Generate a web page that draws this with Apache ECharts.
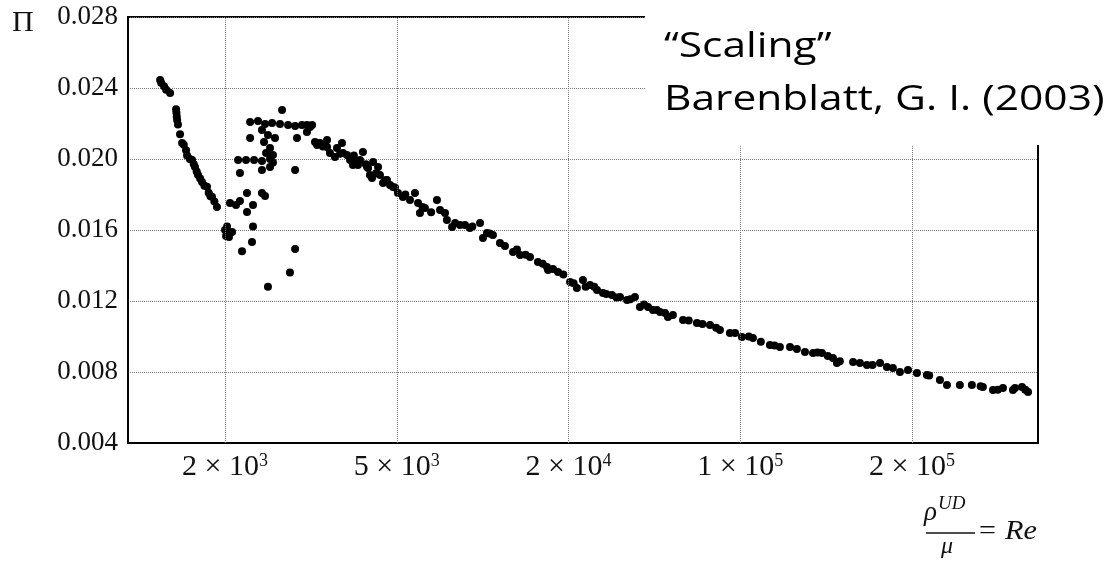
<!DOCTYPE html>
<html>
<head>
<meta charset="utf-8">
<script src="https://cdn.jsdelivr.net/npm/echarts@6/dist/echarts.min.js"></script>
<style>
html,body{margin:0;padding:0;background:#fff;}
#chart{width:1109px;height:562px;}
</style>
</head>
<body>
<div id="chart"></div>
<script>
// x positions on the (non-uniform) Reynolds-number axis: tick k sits at position k
const xTickPos = [1, 2, 3, 4, 5];
const xTickBase = ['2 × 10', '5 × 10', '2 × 10', '1 × 10', '2 × 10'];
const xTickExp = ['3', '3', '4', '5', '5'];

// friction factor Π versus Re (position on axis)
const reX = [
  0.622,0.628,0.645,0.657,0.680,0.715,0.717,0.719,0.721,0.726,0.738,0.750,0.760,0.773,0.779,0.795,0.808,0.818,0.825,0.835,0.843,0.855,0.866,0.880,0.895,0.905,0.915,0.924,0.938,0.953,
  1.000,1.006,1.017,1.023,1.041,1.012,1.099,1.157,1.163,1.250,1.378,1.408,
  1.029,1.064,1.087,1.128,1.163,1.128,1.215,1.233,1.087,1.146,
  1.076,1.122,1.169,1.215,1.262,1.215,1.262,1.279,1.408,
  1.146,1.192,1.233,1.274,1.320,1.367,1.408,1.448,1.495,1.332,
  1.215,1.250,1.227,1.262,1.239,1.291,1.279,1.419,1.477,1.507,
  1.536,1.594,1.611,1.652,1.681,1.710,1.745,1.803,1.774,1.827,1.862,1.844,1.902,1.943,1.978,2.007,
  1.477,1.524,1.553,1.594,1.640,1.687,1.728,1.745,1.786,1.833,1.856,1.891,1.920,1.961,2.036,2.077,2.106,2.124,2.135,2.164,2.234,2.252,2.281,2.292,2.322,2.368,2.397,2.426,2.485,2.525,
  2.502,2.560,2.601,2.677,2.718,2.776,2.822,2.875,2.881,2.939,3.009,3.049,3.084,3.125,3.166,3.201,3.253,3.300,3.341,3.387,3.416,3.463,3.515,3.562,3.608,
  3.492,3.533,3.579,3.667,3.748,3.824,3.882,3.940,4.010,4.074,4.173,4.231,4.290,4.377,4.424,4.476,4.540,4.563,
  4.657,4.697,4.738,4.814,4.854,4.889,4.930,4.977,5.029,5.087,5.163,5.204,5.279,5.349,5.413,5.472,5.530,5.588,5.641,5.676,
  2.540,2.630,2.700,2.750,2.850,2.910,2.970,3.030,3.100,3.150,3.220,3.280,3.360,3.440,3.700,3.780,3.860,3.970,4.050,4.120,4.200,4.330,4.450,4.510,4.580,4.770,5.100,5.400,5.500,5.600,5.660,
  2.050,2.150,2.200,2.340,2.440,1.570,1.670,1.750,1.820,1.880,1.930,1.990
];
const piY = [
  0.02445,0.0243,0.0241,0.0239,0.02372,0.0228,0.0226,0.0224,0.0222,0.02195,0.0214,0.0209,0.0208,0.0205,0.0202,0.0200,0.01995,0.0197,0.01955,0.0193,0.0191,0.0189,0.0187,0.0185,0.01843,0.0181,0.0179,0.01787,0.0176,0.0173,
  0.0160,0.01566,0.01578,0.01561,0.01589,0.0162,0.0148,0.01533,0.0162,0.0128,0.0136,0.01493,
  0.01752,0.01741,0.01763,0.01701,0.01741,0.01808,0.01808,0.01792,0.01921,0.02118,
  0.01994,0.01994,0.01994,0.01989,0.0200,0.01938,0.01955,0.0198,0.01938,
  0.02208,0.02214,0.02197,0.02203,0.02197,0.02192,0.02186,0.02192,0.0218,0.02276,
  0.02163,0.02135,0.02096,0.02062,0.02034,0.02118,0.02023,0.02118,0.02152,0.02192,
  0.02079,0.02107,0.02034,0.02062,0.0209,0.02023,0.01994,0.0204,0.01966,0.01955,0.01983,0.0191,0.0191,0.01882,0.01842,0.01808,
  0.02192,0.02096,0.0209,0.02068,0.02011,0.02034,0.01994,0.01966,0.01994,0.01949,0.01893,0.01955,0.01865,0.01853,0.01786,0.01769,0.01808,0.01752,0.01696,0.01724,0.01769,0.01713,0.01696,0.01656,0.01617,0.01628,0.01628,0.01611,0.01639,0.01583,
  0.01555,0.01572,0.01527,0.01476,0.01459,0.01448,0.0142,0.01392,0.01375,0.01363,0.01307,0.01273,0.01318,0.0129,0.01262,0.01245,0.01234,0.01223,0.01206,0.01223,0.01166,0.01166,0.01149,0.01132,0.01121,
  0.01149,0.01138,0.0111,0.01093,0.01076,0.01065,0.01037,0.0102,0.00997,0.00992,0.00952,0.00941,0.00941,0.00913,0.00907,0.00907,0.00879,0.00851,
  0.00856,0.00851,0.00839,0.00851,0.00828,0.00822,0.0080,0.00811,0.00794,0.00783,0.00755,0.00727,0.00727,0.00727,0.00715,0.00699,0.0071,0.00699,0.00715,0.00687,
  0.0158,0.0151,0.0149,0.0146,0.0141,0.0138,0.0135,0.0130,0.0128,0.0128,0.0124,0.0122,0.0121,0.0118,0.0109,0.0107,0.0105,0.0102,0.0100,0.0097,0.0095,0.0093,0.0091,0.0089,0.0086,0.0084,0.0078,0.0072,0.0070,0.0071,0.0070,
  0.0180,0.0173,0.0170,0.0164,0.0162,0.0207,0.0203,0.0202,0.0197,0.0192,0.0188,0.0184
];

const points = reX.map((x, i) => [x, piY[i]]);

const chart = echarts.init(document.getElementById('chart'), null, {renderer: 'canvas'});
const serif = '"Liberation Serif", "DejaVu Serif", serif';

chart.setOption({
  backgroundColor: '#fff',
  animation: false,
  grid: {left: 128, right: 71, top: 17, bottom: 119, show: true, borderColor: '#000', borderWidth: 2, backgroundColor: 'transparent'},
  xAxis: {
    type: 'value', min: 0.435, max: 5.734,
    axisLine: {show: true, lineStyle: {color: '#000', width: 2}},
    axisTick: {show: false},
    splitLine: {show: false},
    axisLabel: {
      customValues: xTickPos,
      margin: 9,
      formatter: function (v) {
        const i = xTickPos.indexOf(Math.round(v));
        return '{b|' + xTickBase[i] + '}{s|' + xTickExp[i] + '}';
      },
      rich: {
        b: {fontFamily: serif, fontSize: 30, color: '#111', lineHeight: 30},
        s: {fontFamily: serif, fontSize: 18, color: '#111', verticalAlign: 'top', lineHeight: 18}
      }
    }
  },
  yAxis: {
    type: 'value', min: 0.004, max: 0.028, interval: 0.004,
    axisLine: {show: true, lineStyle: {color: '#000', width: 2}},
    axisTick: {show: false},
    splitLine: {show: true, lineStyle: {color: '#777', type: 'dotted', width: 1}},
    axisLabel: {
      margin: 10, fontFamily: serif, fontSize: 27, color: '#111',
      formatter: v => v.toFixed(3)
    }
  },
  series: [{
    type: 'scatter',
    data: points,
    symbol: 'circle',
    symbolSize: 8,
    itemStyle: {color: '#000', opacity: 1},
    markLine: {
      silent: true, symbol: 'none', animation: false,
      label: {show: false},
      lineStyle: {color: '#777', type: 'dotted', width: 1},
      data: xTickPos.map(v => ({xAxis: v}))
    }
  }],
  graphic: [
    {type: 'text', x: 12, y: 23, style: {text: 'Π', font: '30px ' + serif, fill: '#111', verticalAlign: 'middle'}},
    {type: 'rect', z: 100, shape: {x: 645, y: 0, width: 464, height: 145}, style: {fill: '#fff'}},
    {type: 'text', z: 101, x: 664, y: 47, scaleX: 1.25, style: {text: '“Scaling”', font: '34px "Open Sans"', fill: '#000', verticalAlign: 'middle'}},
    {type: 'text', z: 101, x: 664, y: 100, scaleX: 1.25, style: {text: 'Barenblatt, G. I. (2003)', font: '34px "Open Sans"', fill: '#000', verticalAlign: 'middle'}},
    {type: 'text', x: 924, y: 513, style: {text: 'ρ', font: 'italic 27px ' + serif, fill: '#111', verticalAlign: 'middle'}},
    {type: 'text', x: 938, y: 504, style: {text: 'UD', font: 'italic 19px ' + serif, fill: '#111', verticalAlign: 'middle'}},
    {type: 'line', shape: {x1: 926, y1: 533, x2: 975, y2: 533}, style: {stroke: '#111', lineWidth: 1.5}},
    {type: 'text', x: 941, y: 547, style: {text: 'μ', font: 'italic 24px ' + serif, fill: '#111', verticalAlign: 'middle'}},
    {type: 'text', x: 977, y: 532, scaleX: 1.12, style: {text: '= Re', font: 'italic 27px ' + serif, fill: '#111', verticalAlign: 'middle'}}
  ]
});
</script>
</body>
</html>
